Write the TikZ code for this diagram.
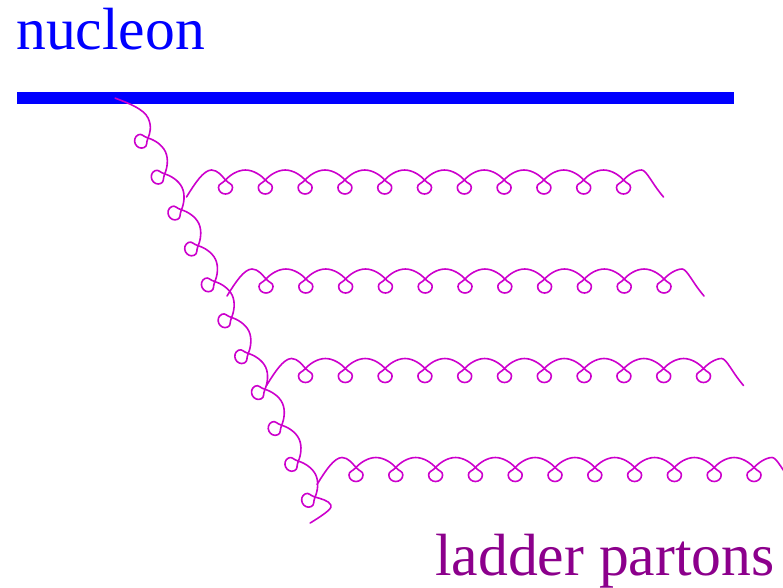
\documentclass[tikz,border=0pt]{standalone}
\usepackage{fontspec}
\setmainfont{Liberation Serif}

\definecolor{gluoncol}{RGB}{204,0,204}
\definecolor{nucleonblue}{RGB}{0,0,255}
\definecolor{ladderpurple}{RGB}{140,0,140}

\tikzset{
  gluonline/.style={draw=gluoncol, line width=1.6pt, line cap=round, line join=round},
  bigtext/.style={anchor=base west, inner sep=0pt, font=\fontsize{59.6}{60}\selectfont}
}

% A curly gluon line in its own frame: the first loop crossing is at the
% origin, loops hang below the axis, arcs rise above it.
% #1,#2: first crossing; #3: direction angle; #4: number of loops;
% #5: loop spacing; #6: lead-in path ending at (0,0);
% #7: tail path starting at the last crossing (0,0).
\newcommand\gluon[7]{%
  \begin{scope}[shift={(#1,#2)}, rotate=#3, yscale=-1]
    \pgfmathtruncatemacro\glastk{#4-1}
    \pgfmathsetmacro\glastx{(#4-1)*#5}
    \draw[gluonline] #6;
    \foreach \k in {0,...,\glastk}{
      \pgfmathsetmacro\gx{\k*#5}
      \draw[gluonline] (\gx,0)
        .. controls ({\gx+3.5},-4) and ({\gx+7},-3.5) .. ({\gx+7},-7.5)
        .. controls ({\gx+7},-11.5) and ({\gx+3.5},-14) .. (\gx,-14)
        .. controls ({\gx-3.5},-14) and ({\gx-7},-11.5) .. ({\gx-7},-7.5)
        .. controls ({\gx-7},-3.5) and ({\gx-3.5},-4) .. (\gx,0);
    }
    \foreach \k in {1,...,\glastk}{
      \pgfmathsetmacro\gx{\k*#5}
      \pgfmathsetmacro\gp{(\k-1)*#5}
      \pgfmathsetmacro\gm{(\k-0.5)*#5}
      \draw[gluonline] (\gp,0)
        .. controls ({\gp+4},4.6) and ({\gm-8},10) .. (\gm,10)
        .. controls ({\gm+8},10) and ({\gx-4},4.6) .. (\gx,0);
    }
    \begin{scope}[shift={(\glastx,0)}]
      \draw[gluonline] #7;
    \end{scope}
  \end{scope}
}

\begin{document}
\begin{tikzpicture}[x=1pt, y=-1pt]
  \useasboundingbox (0,0) rectangle (783,587);

  % nucleon line
  \coordinate (barL) at (17,98);
  \coordinate (barR) at (734,98);
  \draw[nucleonblue, line width=12pt] (barL) -- (barR);

  \node[bigtext, text=nucleonblue] (nucleon) at (16,49) {nucleon};
  \node[bigtext, text=ladderpurple] (ladder) at (435,575) {ladder partons};

  % emitted rungs of the ladder
  \foreach \cx/\cy in {225.5/180, 266/279, 305.5/368.5, 356/467.5}{
    \gluon{\cx}{\cy}{0}{11}{39.8}
      {(-39,-17) .. controls (-31,-4) and (-22,10) .. (-14,10)
                 .. controls (-8,10) and (-3.5,4) .. (0,0)}
      {(0,0) .. controls (4,4.6) and (12,10) .. (18,10)
             .. controls (23,10) and (28,-3) .. (40,-17)}
  }

  % gluon leaving the nucleon
  \gluon{148}{138}{-65.05}{11}{39.6}
    {(-50,-13) .. controls (-40,-3) and (-28,8.5) .. (-18,8.5)
               .. controls (-9,8.5) and (-3.5,4) .. (0,0)}
    {(0,0) .. controls (4,4.6) and (9,11) .. (14,11)
           .. controls (17,11) and (19,6) .. (21.5,-15.4)}
\end{tikzpicture}
\end{document}
